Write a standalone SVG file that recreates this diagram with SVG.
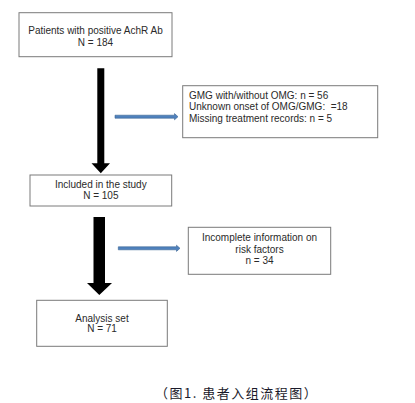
<svg xmlns="http://www.w3.org/2000/svg" width="415" height="403" viewBox="0 0 415 403">
<style>
.box{fill:#fff;stroke:#7a7a7a;stroke-width:1}
.t{font-family:"Liberation Sans",Arial,sans-serif;font-size:10px;fill:#2a2a2a}
.c{text-anchor:middle}
.blk{fill:#000}
.blu{fill:#4f81bd;stroke:#3b6594;stroke-width:0.6}
.cap{font-family:"Noto Sans CJK SC","Liberation Sans",sans-serif;font-size:13px;letter-spacing:1.5px;fill:#1a1a2a;text-spacing-trim:space-all}
</style>
<rect width="415" height="403" fill="#fff"/>
<g id="connectors">
<polygon class="blk" points="97.3,68.3 104.3,68.3 104.3,163.3 110,163.3 100.8,173.3 91.5,163.3 97.3,163.3"/>
<polygon class="blk" points="93.5,217 105,217 105,283 112,283 99.3,295 87,283 93.5,283"/>
<polygon class="blu" points="115,115.2 174.5,115.2 174.5,113.6 178,116.7 174.5,119.8 174.5,118.2 115,118.2"/>
<polygon class="blu" points="118.3,246.8 176.5,246.8 176.5,245.2 180,248.3 176.5,251.4 176.5,249.8 118.3,249.8"/>
</g>
<g id="n1">
<rect class="box" x="19" y="12.7" width="153" height="44"/>
<text class="t c" x="95.5" y="33.5">Patients with positive AchR Ab</text>
<text class="t c" x="95.5" y="45.5">N = 184</text>
</g>
<g id="n2">
<rect class="box" x="182.7" y="85.7" width="195" height="52"/>
<text class="t" x="189" y="98.5">GMG with/without OMG: n = 56</text>
<text class="t" x="189" y="110.2" xml:space="preserve">Unknown onset of OMG/GMG:  =18</text>
<text class="t" x="189" y="121.8">Missing treatment records: n = 5</text>
</g>
<g id="n3">
<rect class="box" x="30" y="175" width="141.7" height="31"/>
<text class="t c" x="100.8" y="188.3">Included in the study</text>
<text class="t c" x="100.8" y="199.3">N = 105</text>
</g>
<g id="n4">
<rect class="box" x="188.3" y="227.3" width="142.4" height="47"/>
<text class="t c" x="259.5" y="240.8">Incomplete information on</text>
<text class="t c" x="259.5" y="252.6">risk factors</text>
<text class="t c" x="259.5" y="264.2">n = 34</text>
</g>
<g id="n5">
<rect class="box" x="36.7" y="300.3" width="130.6" height="46"/>
<text class="t c" x="102" y="321.7">Analysis set</text>
<text class="t c" x="102" y="332.3">N = 71</text>
</g>
<text class="cap" x="155" y="397.5">（图1. 患者入组流程图）</text>
</svg>
